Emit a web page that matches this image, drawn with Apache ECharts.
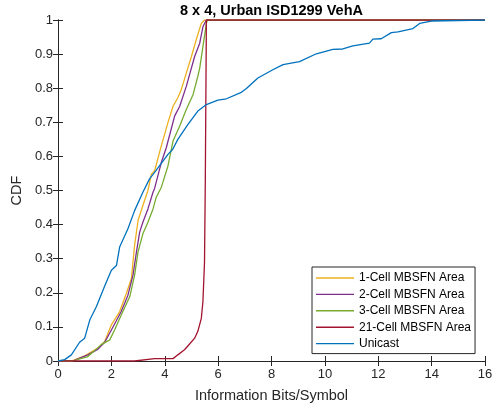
<!DOCTYPE html>
<html>
<head>
<meta charset="utf-8">
<script src="https://cdn.jsdelivr.net/npm/echarts@6/dist/echarts.min.js"></script>
<style>html,body{margin:0;padding:0;background:#fff;}#chart{width:498px;height:408px;}</style>
</head>
<body>
<div id="chart"></div>
<script>
var titleText = '8 x 4, Urban ISD1299 VehA';
var xLabel = 'Information Bits/Symbol';
var yLabel = 'CDF';
var seriesNames = ['1-Cell MBSFN Area', '2-Cell MBSFN Area', '3-Cell MBSFN Area', '21-Cell MBSFN Area', 'Unicast'];
var seriesColors = ['#EDB120', '#7E2F8E', '#77AC30', '#A2142F', '#0072BD'];

var cell1X = [0, 0.5, 1.0, 1.5, 1.75, 2.0, 2.31, 2.56, 2.75, 2.87, 3.0, 3.18, 3.37, 3.5, 3.62, 3.87, 4.12, 4.31, 4.49, 4.62, 4.81, 5.0, 5.18, 5.37, 5.49, 16];
var cell1Y = [0, 0, 0.015, 0.038, 0.057, 0.106, 0.145, 0.198, 0.242, 0.339, 0.412, 0.456, 0.5, 0.548, 0.558, 0.631, 0.699, 0.747, 0.772, 0.796, 0.845, 0.893, 0.942, 0.99, 1.0, 1.0];

var cell2X = [0, 0.55, 1.12, 1.5, 1.75, 2.0, 2.37, 2.62, 2.81, 2.94, 3.06, 3.18, 3.37, 3.56, 3.62, 3.87, 4.06, 4.37, 4.56, 4.81, 4.93, 5.12, 5.31, 5.43, 5.56, 16];
var cell2Y = [0, 0, 0.018, 0.035, 0.055, 0.091, 0.145, 0.193, 0.252, 0.32, 0.378, 0.407, 0.446, 0.495, 0.506, 0.582, 0.626, 0.718, 0.747, 0.806, 0.84, 0.893, 0.932, 0.98, 1.0, 1.0];

var cell3X = [0, 0.55, 1.12, 1.62, 1.94, 2.12, 2.37, 2.69, 2.87, 3.0, 3.18, 3.37, 3.56, 3.68, 3.87, 4.12, 4.31, 4.56, 4.81, 5.06, 5.24, 5.31, 5.43, 5.56, 5.6, 16];
var cell3Y = [0, 0, 0.013, 0.048, 0.062, 0.091, 0.135, 0.189, 0.252, 0.32, 0.373, 0.407, 0.446, 0.48, 0.509, 0.572, 0.645, 0.689, 0.738, 0.781, 0.835, 0.859, 0.922, 0.99, 1.0, 1.0];

var cell21X = [0, 2.87, 3.62, 4.31, 4.49, 4.74, 4.93, 5.12, 5.24, 5.37, 5.43, 5.49, 5.52, 5.56, 16];
var cell21Y = [0, 0, 0.007, 0.007, 0.018, 0.033, 0.05, 0.067, 0.087, 0.125, 0.174, 0.29, 0.53, 1.0, 1.0];

var unicastX = [0, 0.25, 0.5, 0.81, 1.0, 1.19, 1.44, 1.75, 2.0, 2.19, 2.31, 2.62, 2.87, 3.18, 3.43, 3.62, 4.12, 4.3, 4.49, 4.87, 5.24, 5.56, 5.99, 6.31, 6.87, 7.06, 7.49, 8.05, 8.43, 9.05, 9.68, 10.3, 10.67, 11.05, 11.67, 11.8, 12.11, 12.49, 12.74, 13.3, 13.55, 13.99, 16];
var unicastY = [0, 0.004, 0.018, 0.055, 0.067, 0.12, 0.16, 0.22, 0.266, 0.28, 0.334, 0.388, 0.441, 0.495, 0.534, 0.553, 0.606, 0.621, 0.65, 0.694, 0.733, 0.752, 0.765, 0.769, 0.788, 0.799, 0.83, 0.854, 0.869, 0.878, 0.901, 0.914, 0.915, 0.924, 0.932, 0.944, 0.945, 0.963, 0.965, 0.975, 0.99, 0.997, 1.0];

var xTicks = [0, 2, 4, 6, 8, 10, 12, 14, 16];
var yTicks = [0, 0.1, 0.2, 0.3, 0.4, 0.5, 0.6, 0.7, 0.8, 0.9, 1];

function pairs(xs, ys) { return xs.map(function (x, i) { return [x, ys[i]]; }); }
var allX = [cell1X, cell2X, cell3X, cell21X, unicastX];
var allY = [cell1Y, cell2Y, cell3Y, cell21Y, unicastY];

var axisColor = '#262626';
var font = '"Liberation Sans", Arial, Helvetica, sans-serif';

function xAxisDef(pos, showLabel) {
  return {
    type: 'value', position: pos, min: xTicks[0], max: xTicks[xTicks.length - 1], interval: 2,
    axisLine: { show: true, lineStyle: { color: axisColor, width: 1 } },
    axisTick: { show: true, inside: true, length: 5, lineStyle: { color: axisColor } },
    axisLabel: { show: showLabel, color: axisColor, fontSize: 13, fontFamily: font, margin: 7 },
    splitLine: { show: false },
    name: showLabel ? xLabel : '', nameLocation: 'middle', nameGap: 27,
    nameTextStyle: { color: axisColor, fontSize: 14.5, fontFamily: font }
  };
}
function yAxisDef(pos, showLabel) {
  return {
    type: 'value', position: pos, min: yTicks[0], max: yTicks[yTicks.length - 1], interval: 0.1,
    axisLine: { show: true, lineStyle: { color: axisColor, width: 1 } },
    axisTick: { show: true, inside: true, length: 5, lineStyle: { color: axisColor } },
    axisLabel: { show: showLabel, color: axisColor, fontSize: 13, fontFamily: font, margin: 5,
      formatter: function (v) { return (v === 0 || v === 1) ? String(v) : v.toFixed(1); } },
    splitLine: { show: false },
    name: showLabel ? yLabel : '', nameLocation: 'middle', nameGap: 26,
    nameTextStyle: { color: axisColor, fontSize: 14.5, fontFamily: font }
  };
}

var chart = echarts.init(document.getElementById('chart'), null, { renderer: 'canvas' });
chart.setOption({
  animation: false,
  backgroundColor: '#fff',
  grid: { left: 58, right: 13, top: 20, bottom: 45, containLabel: false },
  graphic: [{
    type: 'text', x: 271.5, y: 3,
    style: { text: titleText, textAlign: 'center', textVerticalAlign: 'top', fill: '#000',
      font: 'bold 14.5px "Liberation Sans", Arial, sans-serif' }
  }],
  xAxis: [xAxisDef('bottom', true), xAxisDef('top', false)],
  yAxis: [yAxisDef('left', true), yAxisDef('right', false)],
  legend: {
    orient: 'vertical', left: 312, top: 267,
    padding: [4, 4, 3, 4], itemGap: 2.4, itemWidth: 38, itemHeight: 1.4, icon: 'rect',
    backgroundColor: '#fff', borderColor: axisColor, borderWidth: 1,
    textStyle: { color: '#000', fontSize: 12, fontFamily: font, lineHeight: 14 },
    data: seriesNames
  },
  series: seriesNames.map(function (n, i) {
    return {
      name: n, type: 'line', xAxisIndex: 0, yAxisIndex: 0,
      data: pairs(allX[i], allY[i]),
      symbol: 'none', showSymbol: false, smooth: false,
      lineStyle: { color: seriesColors[i], width: 1.3 },
      itemStyle: { color: seriesColors[i] },
      z: 2 + i
    };
  })
});
</script>
</body>
</html>
